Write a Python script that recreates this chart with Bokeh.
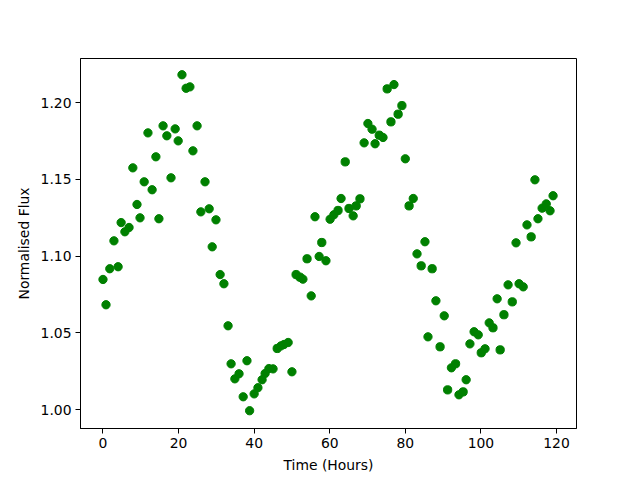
from bokeh.plotting import figure
from bokeh.models import Range1d, FixedTicker, NumeralTickFormatter
from bokeh.embed import file_html
from bokeh.resources import INLINE

hours = [0.0, 0.8, 1.8, 2.9, 4.0, 4.8, 5.8, 6.9, 7.9, 9.0,
         9.8, 10.9, 11.9, 13.0, 14.0, 14.8, 15.9, 16.9, 18.0, 19.1,
         19.9, 20.9, 22.0, 23.0, 23.8, 24.9, 25.9, 27.0, 28.1, 28.9,
         29.9, 31.0, 32.0, 33.1, 33.9, 34.9, 36.0, 37.1, 38.1, 38.8,
         40.0, 41.0, 42.1, 42.9, 43.9, 45.0, 46.1, 47.1, 47.9, 49.0,
         50.0, 51.1, 52.1, 52.9, 54.0, 55.1, 56.1, 57.2, 57.9, 59.0,
         60.1, 61.1, 62.2, 63.0, 64.1, 65.1, 66.2, 67.0, 68.0, 69.1,
         70.1, 71.2, 72.0, 73.1, 74.1, 75.2, 76.2, 77.0, 78.1, 79.1,
         80.0, 81.0, 82.1, 83.1, 84.2, 85.2, 86.0, 87.1, 88.1, 89.2,
         90.3, 91.2, 92.2, 93.3, 94.2, 95.3, 96.1, 97.1, 98.2, 99.3,
         100.1, 101.1, 102.2, 103.2, 104.3, 105.1, 106.1, 107.2, 108.3, 109.3,
         110.1, 111.2, 112.2, 113.3, 114.3, 115.1, 116.2, 117.3, 118.3, 119.1]

flux = [1.0848, 1.0683, 1.0918, 1.1100, 1.0931, 1.1219, 1.1159, 1.1187, 1.1576, 1.1337,
        1.1250, 1.1485, 1.1804, 1.1433, 1.1648, 1.1244, 1.1850, 1.1785, 1.1511, 1.1830,
        1.1752, 1.2183, 1.2095, 1.2104, 1.1687, 1.1850, 1.1289, 1.1485, 1.1309, 1.1061,
        1.1237, 1.0880, 1.0820, 1.0546, 1.0298, 1.0200, 1.0233, 1.0083, 1.0318, 0.9992,
        1.0102, 1.0142, 1.0194, 1.0235, 1.0267, 1.0265, 1.0398, 1.0415, 1.0424, 1.0437,
        1.0246, 1.0880, 1.0863, 1.0850, 1.0983, 1.0741, 1.1257, 1.0998, 1.1089, 1.0970,
        1.1241, 1.1270, 1.1298, 1.1376, 1.1615, 1.1311, 1.1263, 1.1328, 1.1374, 1.1739,
        1.1865, 1.1828, 1.1733, 1.1789, 1.1774, 1.2091, 1.1876, 1.2119, 1.1926, 1.1982,
        1.1635, 1.1328, 1.1376, 1.1015, 1.0937, 1.1094, 1.0474, 1.0918, 1.0709, 1.0409,
        1.0611, 1.0128, 1.0272, 1.0298, 1.0096, 1.0115, 1.0194, 1.0428, 1.0507, 1.0487,
        1.0370, 1.0396, 1.0565, 1.0533, 1.0722, 1.0389, 1.0618, 1.0813, 1.0702, 1.1087,
        1.0820, 1.0800, 1.1204, 1.1126, 1.1498, 1.1244, 1.1313, 1.1341, 1.1296, 1.1394]

x_ticks = [0, 20, 40, 60, 80, 100, 120]
y_ticks = [1.00, 1.05, 1.10, 1.15, 1.20]

p = figure(output_backend="svg", toolbar_location=None,
           frame_width=496, frame_height=370,
           min_border_left=80, min_border_right=48,
           min_border_top=58, min_border_bottom=44,
           x_range=Range1d(-5.95, 125.3), y_range=Range1d(0.98761, 1.2289))

p.scatter(hours, flux, size=8.3, fill_color="green", line_color="green")

p.xgrid.visible = False
p.ygrid.visible = False
p.outline_line_color = "black"
p.outline_line_width = 1
p.outline_line_alpha = 1.0

p.xaxis.ticker = FixedTicker(ticks=x_ticks)
p.yaxis.ticker = FixedTicker(ticks=y_ticks)
p.yaxis.formatter = NumeralTickFormatter(format="0.00")
p.xaxis.axis_label = "Time (Hours)"
p.yaxis.axis_label = "Normalised Flux"

for ax in (p.xaxis, p.yaxis):
    ax.major_tick_in = 0
    ax.major_tick_out = 5
    ax.minor_tick_in = 0
    ax.minor_tick_out = 0
    ax.major_tick_line_color = "black"
    ax.axis_line_color = "black"
    ax.major_label_text_font = "DejaVu Sans"
    ax.major_label_text_font_size = "13.9px"
    ax.major_label_text_color = "black"
    ax.axis_label_text_font = "DejaVu Sans"
    ax.axis_label_text_font_size = "13.9px"
    ax.axis_label_text_font_style = "normal"
    ax.axis_label_text_color = "black"
    ax.major_label_standoff = 4
    ax.axis_label_standoff = 6

open("out.html", "w").write(file_html(p, INLINE))
